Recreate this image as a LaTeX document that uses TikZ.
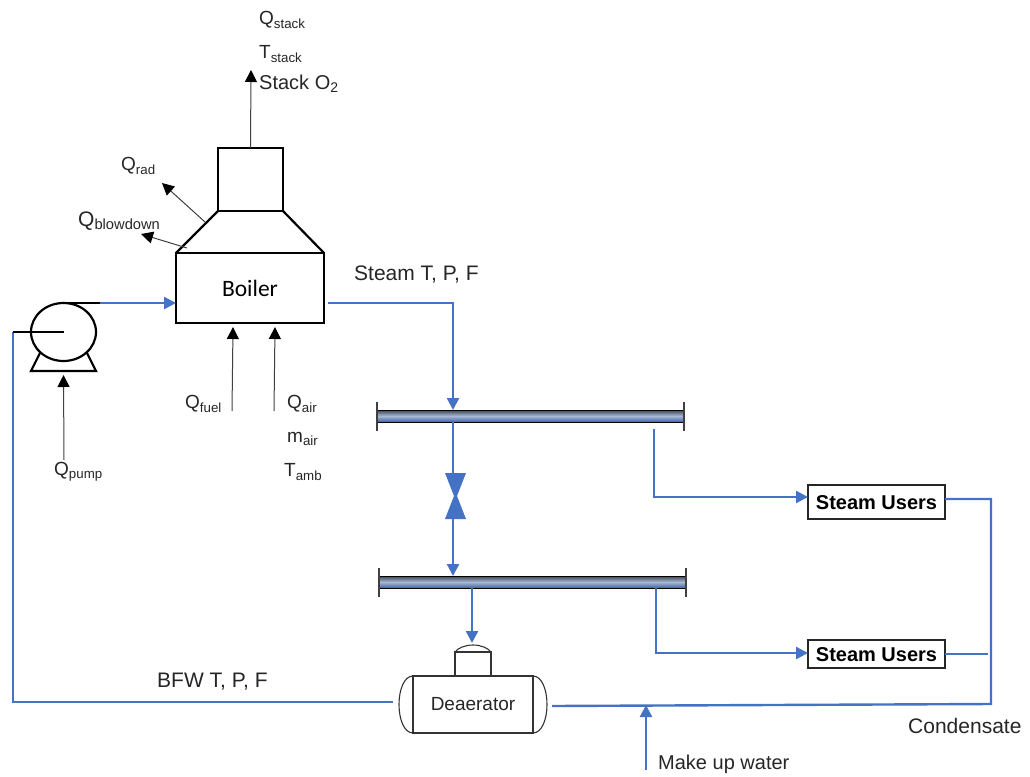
\documentclass[tikz,border=0pt]{standalone}
\usepackage{fontspec}
\setmainfont{Liberation Sans}
\newfontfamily\boilerfont{Carlito}
\usetikzlibrary{arrows.meta,shapes.geometric}
\definecolor{pipeblue}{HTML}{4472C4}
\definecolor{labelgray}{HTML}{262626}
\definecolor{headermid}{HTML}{A9B8D2}
\definecolor{headerlow}{HTML}{3A62A8}
\definecolor{headertop}{HTML}{3C4654}
\tikzset{unit/.style={draw=black,line width=2.2pt,inner sep=0pt,outer sep=0pt},
 tank/.style={draw=black!80,line width=1.1pt},
 header/.style={inner sep=0pt,outer sep=0pt,minimum width=307,minimum height=12,top color=headertop,bottom color=headerlow,middle color=headermid},
 headerend/.style={line width=1.1pt,black!75},
 users/.style={draw=black!85,line width=1.1pt,inner sep=0pt,outer sep=0pt,minimum width=137,font=\fontsize{20}{22}\selectfont\bfseries},
 pipe/.style={pipeblue,line width=2.4pt},
 pipearrow/.style={pipe,-{Triangle[length=12pt,width=12pt]}},
 heat/.style={black!75,line width=1pt,-{Triangle[length=12pt,width=12pt,black]}},
 tag/.style={inner sep=0pt,text=labelgray,font=\fontsize{19}{22}\selectfont},
 widetag/.style={tag,font=\fontsize{21}{24}\selectfont}}

\begin{document}
\begin{tikzpicture}[x=1pt,y=-1pt]
 \useasboundingbox (0,0) rectangle (1030,776);
 % boiler and stack
 \node[unit,minimum width=148,minimum height=70,font=\boilerfont\fontsize{23.5}{26}\selectfont] (boiler) at (250,288) {Boiler};
 \node[unit,minimum width=65,minimum height=63] (stack) at (250.5,179.5) {};
 \draw[unit] (boiler.north west) -- (stack.south west) (stack.south east) -- (boiler.north east);
 % pump
 \coordinate (pumpbase) at (63.5,371);
 \draw[unit] (40,353) -- (31,371) -- (96,371) -- (87,353);
 \node[unit,fill=white,ellipse,minimum width=65,minimum height=58] (pump) at (63.5,332) {};
 % headers
 \foreach \name/\x/\y in {hpbus/530.5/416,lpbus/532.5/582}{
  \node[header] (\name) at (\x,\y) {};
  \draw[black,line width=.7pt] (\name.north west) -- (\name.north east) (\name.south west) -- (\name.south east);
  \draw[headerend] ([yshift=8]\name.north west) -- ([yshift=-9]\name.south west);
  \draw[headerend] ([yshift=8]\name.north east) -- ([yshift=-9]\name.south east);
 }
 % valve
 \fill[pipeblue] (445,473) -- (466,473) -- (457,496) -- (466,519) -- (445,519) -- (454,496) -- cycle;
 % deaerator
 \node[tank,inner sep=0pt,outer sep=0pt,minimum width=120,minimum height=57,font=\fontsize{19}{22}\selectfont,text=labelgray] (deaerator) at (473,704.5) {Deaerator};
 \draw[tank] (deaerator.north west) .. controls (404,676) and (399,690) .. (399,704.5) .. controls (399,719) and (404,733) .. (deaerator.south west);
 \draw[tank] (deaerator.north east) .. controls (542,676) and (547,690) .. (547,704.5) .. controls (547,719) and (542,733) .. (deaerator.south east);
 \node[tank,inner sep=0pt,outer sep=0pt,minimum width=36,minimum height=24] (dome) at (473,664) {};
 \draw[tank] (dome.north west) .. controls (458,648) and (465,645) .. (473,645) .. controls (481,645) and (488,648) .. (dome.north east);
 % steam users
 \node[users,minimum height=34,text height=14.5pt,text depth=0pt] (usersa) at (876.5,502) {Steam Users};
 \node[users,minimum height=28,text height=14.5pt,text depth=0pt] (usersb) at (876.5,654) {Steam Users};
 % free ends
 \coordinate (steamout) at (328,303);
 \coordinate (steamturn) at (453,303);
 \coordinate (valvein) at (453,473);
 \coordinate (valveout) at (453,519);
 \coordinate (hptap) at (654,429);
 \coordinate (hpturn) at (654,497);
 \coordinate (lptap) at (656,588);
 \coordinate (lpturn) at (656,653);
 \coordinate (lpdrop) at (472,588);
 \coordinate (domein) at (472,643);
 \coordinate (condstart) at (945,499);
 \coordinate (condtop) at (991,499);
 \coordinate (condturn) at (991,704);
 \coordinate (condend) at (552,706);
 \coordinate (condin) at (988,654);
 \coordinate (makeup) at (646,770);
 \coordinate (makeupin) at (646,705);
 \coordinate (bfwa) at (13,332);
 \coordinate (bfwb) at (13,702);
 \coordinate (bfwc) at (393,702);
 \coordinate (pumptop) at (100,303);
 % pipes
 \draw[pipe] (bfwc) -- (bfwb) -- (bfwa);
 \draw[black,line width=2pt] (bfwa) -- (pump.center);
 \draw[black,line width=2pt] (pump.north) -- (pumptop);
 \draw[pipearrow] (pumptop) -- (boiler.west |- pumptop);
 \draw[pipearrow] (steamout) -- (steamturn) -- (hpbus.north -| steamturn);
 \draw[pipe] (hpbus.south -| steamturn) -- (valvein);
 \draw[pipearrow] (valveout) -- (lpbus.north -| steamturn);
 \draw[pipearrow] (lpdrop) -- (domein);
 \draw[pipearrow] (hptap) -- (hpturn) -- (usersa.west |- hpturn);
 \draw[pipearrow] (lptap) -- (lpturn) -- (usersb.west |- lpturn);
 \draw[pipe] (condstart) -- (condtop) -- (condturn) -- (condend);
 \draw[pipe] (usersb.east) -- (condin);
 \draw[pipearrow] (makeup) -- (makeupin);
 % heat and flue flows
 \coordinate (flueout) at (251,70);
 \coordinate (radfrom) at (205,222);
 \coordinate (radto) at (162,183);
 \coordinate (blowfrom) at (187,248);
 \coordinate (blowto) at (141,234);
 \coordinate (fuelfrom) at (232,411);
 \coordinate (airfrom) at (274,411);
 \coordinate (pumpfrom) at (64,460);
 \draw[heat] (stack.north) -- (flueout);
 \draw[heat] (radfrom) -- (radto);
 \draw[heat] (blowfrom) -- (blowto);
 \draw[heat] (fuelfrom) -- ([xshift=-17,yshift=-4]boiler.south);
 \draw[heat] (airfrom) -- ([xshift=25,yshift=-4]boiler.south);
 \draw[heat] (pumpfrom) -- ([yshift=-4]pumpbase);
 % labels
 \node[tag,anchor=west] (tagqstack) at (259,20) {Q\textsubscript{stack}};
 \node[tag,anchor=west] (tagtstack) at (259,54) {T\textsubscript{stack}};
 \node[tag,anchor=west,font=\fontsize{20}{22}\selectfont] (tagostack) at (259,84) {Stack O\textsubscript{2}};
 \node[tag,anchor=west] (tagqrad) at (121,166) {Q\textsubscript{rad}};
 \node[widetag,anchor=west] (tagqblow) at (78,221) {Q\textsubscript{blowdown}};
 \node[widetag,anchor=west] (tagsteam) at (354,275) {Steam T, P, F};
 \node[tag,anchor=west] (tagqfuel) at (185,404) {Q\textsubscript{fuel}};
 \node[tag,anchor=west] (tagqair) at (287,404) {Q\textsubscript{air}};
 \node[tag,anchor=west] (tagmair) at (287,439) {m\textsubscript{air}};
 \node[tag,anchor=west] (tagtamb) at (284,472) {T\textsubscript{amb}};
 \node[tag,anchor=west] (tagqpump) at (54,472) {Q\textsubscript{pump}};
 \node[widetag,anchor=west] (tagbfw) at (157,682) {BFW T, P, F};
 \node[widetag,anchor=west] (tagcond) at (908,726) {Condensate};
 \node[tag,anchor=west,font=\fontsize{20}{22}\selectfont] (tagmakeup) at (658,764) {Make up water};
\end{tikzpicture}
\end{document}
